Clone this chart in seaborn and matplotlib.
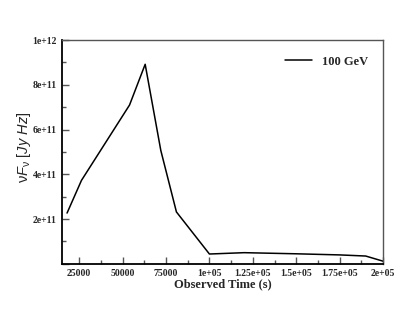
import numpy as np
import pandas as pd
import matplotlib
matplotlib.use('Agg')
import matplotlib.pyplot as plt
import seaborn as sns
from matplotlib.ticker import MultipleLocator, FuncFormatter

# light curve at 100 GeV
time_s = [18000, 26300, 54000, 63000, 72000, 81000, 100000, 120000, 150000, 175000, 190000, 200000]
flux = [2.27e11, 3.73e11, 7.1e11, 8.92e11, 5.07e11, 2.32e11, 4.4e10, 5.0e10, 4.5e10, 4.0e10, 3.5e10, 1.2e10]
series = '100 GeV'

df = pd.DataFrame({'t': time_s, 'f': flux, 'band': series})

sns.set_theme(style='white')
plt.rcParams['font.family'] = ['Liberation Serif', 'DejaVu Serif']
plt.rcParams['mathtext.fontset'] = 'custom'
plt.rcParams['mathtext.it'] = 'Liberation Sans:italic'
plt.rcParams['mathtext.rm'] = 'Liberation Sans'

fig = plt.figure(figsize=(4.15, 3.21), dpi=100)
ax = fig.add_axes([0.149, 0.178, 0.774, 0.697])
sns.lineplot(data=df, x='t', y='f', hue='band', palette=['black'], lw=1.1, ax=ax)

ax.set_xlim(15000, 200000)
ax.set_ylim(0, 1e12)

def sci(v, pos):
    if v >= 100000:
        s = '%.2e' % v
        m, e = s.split('e')
        m = m.rstrip('0').rstrip('.')
        return '%se+%02d' % (m, int(e))
    return '%d' % v

def ysci(v, pos):
    if v == 0:
        return ''
    m, e = ('%.0e' % v).split('e')
    return '%se+%d' % (m, int(e))

ax.xaxis.set_major_locator(MultipleLocator(25000))
ax.xaxis.set_minor_locator(MultipleLocator(12500))
ax.yaxis.set_major_locator(MultipleLocator(2e11))
ax.yaxis.set_minor_locator(MultipleLocator(1e11))
ax.xaxis.set_major_formatter(FuncFormatter(sci))
ax.yaxis.set_major_formatter(FuncFormatter(ysci))

ax.tick_params(which='both', direction='in', bottom=True, left=True, top=False, right=False,
               color='#555555', labelsize=7, pad=4)
ax.tick_params(which='major', length=5, width=1)
ax.tick_params(which='minor', length=3, width=1)
for lab in ax.get_xticklabels() + ax.get_yticklabels():
    lab.set_fontweight('bold')

for sp in ax.spines.values():
    sp.set_color('#555555')
    sp.set_linewidth(1)
ax.spines['left'].set_color('black')
ax.spines['bottom'].set_color('black')
ax.spines['left'].set_linewidth(1.3)
ax.spines['bottom'].set_linewidth(1.3)

ax.set_xlabel('Observed Time (s)', fontsize=9, fontweight='bold', labelpad=0)
ax.set_ylabel(r'$\mathrm{\nu} F_{\mathrm{\nu}}\ [Jy\ Hz]$', fontsize=10.5)
ax.yaxis.set_label_coords(-0.09, 0.52)

ax.legend(loc='upper right', frameon=False, prop={'weight': 'bold', 'size': 9},
          handlelength=2.2, bbox_to_anchor=(0.99, 0.98))

fig.savefig('out.png', dpi=100)
